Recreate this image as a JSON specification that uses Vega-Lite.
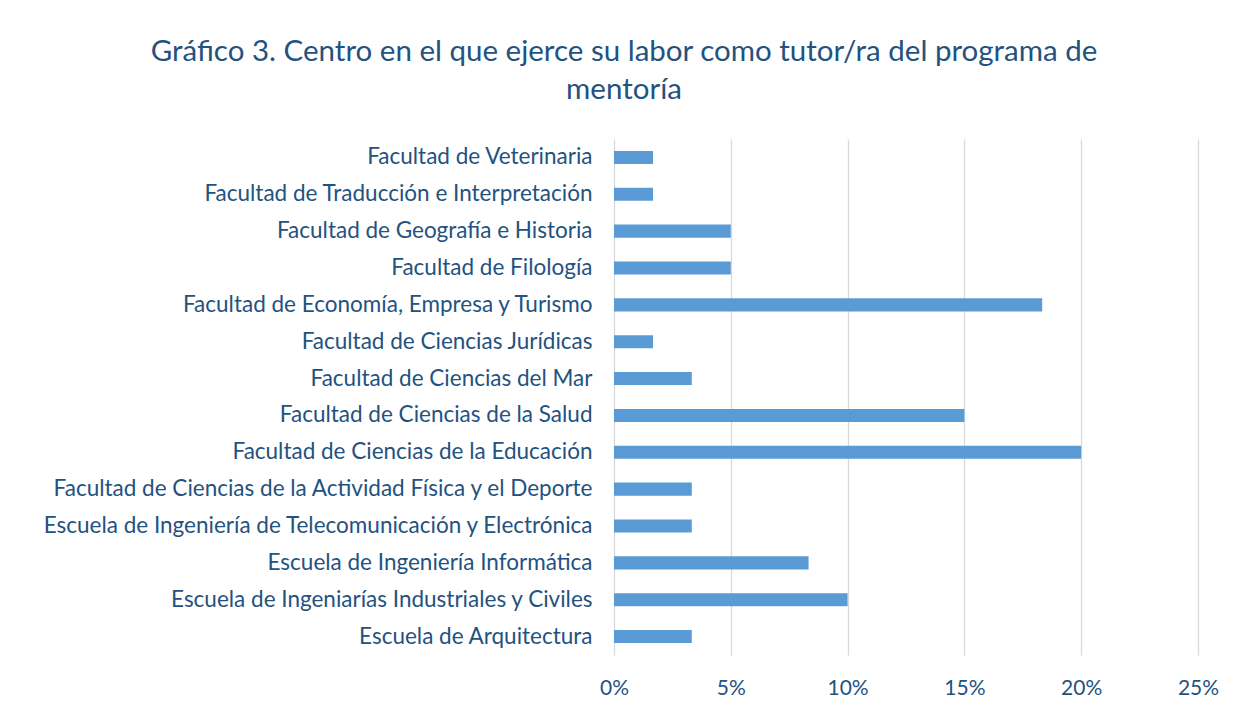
{
  "$schema": "https://vega.github.io/schema/vega-lite/v6.json",
  "width": 584,
  "height": 516,
  "autosize": {"type": "none"},
  "padding": {"left": 614, "top": 139, "right": 41, "bottom": 54},
  "background": "white",
  "title": {
    "text": ["Gráfico 3. Centro en el que ejerce su labor como tutor/ra del programa de", "mentoría"],
    "anchor": "middle",
    "frame": "bounds",
    "font": "Lato",
    "fontSize": 29.5,
    "fontWeight": "normal",
    "color": "#24527F",
    "lineHeight": 38,
    "offset": 34,
    "dx": -6
  },
  "data": {
    "values": [
      {"centro": "Facultad de Veterinaria", "pct": 0.0167},
      {"centro": "Facultad de Traducción e Interpretación", "pct": 0.0167},
      {"centro": "Facultad de Geografía e Historia", "pct": 0.05},
      {"centro": "Facultad de Filología", "pct": 0.05},
      {"centro": "Facultad de Economía, Empresa y Turismo", "pct": 0.1833},
      {"centro": "Facultad de Ciencias Jurídicas", "pct": 0.0167},
      {"centro": "Facultad de Ciencias del Mar", "pct": 0.0333},
      {"centro": "Facultad de Ciencias de la Salud", "pct": 0.15},
      {"centro": "Facultad de Ciencias de la Educación", "pct": 0.2},
      {"centro": "Facultad de Ciencias de la Actividad Física y el Deporte", "pct": 0.0333},
      {"centro": "Escuela de Ingeniería de Telecomunicación y Electrónica", "pct": 0.0333},
      {"centro": "Escuela de Ingeniería Informática", "pct": 0.0833},
      {"centro": "Escuela de Ingeniarías Industriales y Civiles", "pct": 0.1},
      {"centro": "Escuela de Arquitectura", "pct": 0.0333}
    ]
  },
  "mark": {"type": "bar", "color": "#5B9BD5"},
  "encoding": {
    "y": {
      "field": "centro",
      "type": "nominal",
      "sort": null,
      "title": null,
      "scale": {"paddingInner": 0.645, "paddingOuter": 0.3225},
      "axis": {
        "ticks": false,
        "domain": false,
        "labelFont": "Lato",
        "labelFontSize": 22.5,
        "labelColor": "#24527F",
        "labelPadding": 22,
        "labelLimit": 0
      }
    },
    "x": {
      "field": "pct",
      "type": "quantitative",
      "title": null,
      "scale": {"domain": [0, 0.25], "nice": false},
      "axis": {
        "values": [0, 0.05, 0.1, 0.15, 0.2, 0.25],
        "format": ".0%",
        "ticks": false,
        "domain": false,
        "grid": true,
        "gridColor": "#D9D9D9",
        "gridWidth": 1.3,
        "labelFont": "Lato",
        "labelFontSize": 21,
        "labelColor": "#24527F",
        "labelPadding": 22,
        "labelFlush": false
      }
    }
  },
  "config": {"view": {"stroke": null}}
}
